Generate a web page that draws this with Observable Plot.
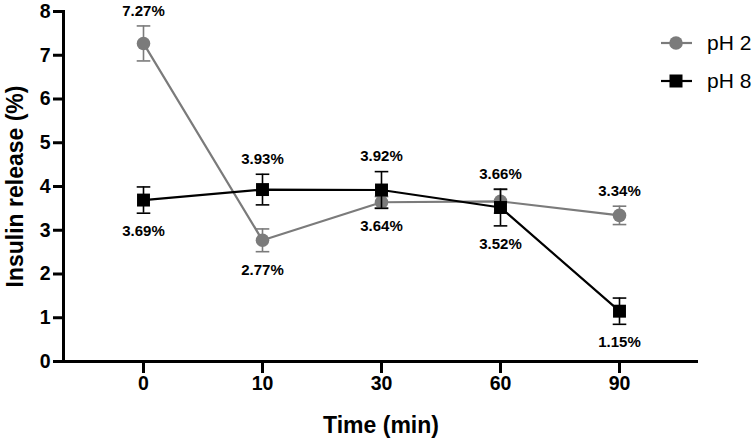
<!DOCTYPE html>
<html><head><meta charset="utf-8">
<script src="https://cdn.jsdelivr.net/npm/d3@7"></script>
<script src="https://cdn.jsdelivr.net/npm/@observablehq/plot@0.6"></script>
<style>
body{margin:0;background:#fff;font-family:"Liberation Sans",Arial,sans-serif}
#wrap{position:relative;width:754px;height:441px}
.leg{position:absolute;left:661px;height:20px;display:flex;align-items:center;font-size:21px;color:#000;white-space:nowrap}
.leg svg{margin-right:14px}
</style></head><body><div id="wrap"></div>
<script>
const times = ["0","10","30","60","90"];
const ph2 = [7.27, 2.77, 3.64, 3.66, 3.34];
const ph2err = [0.40, 0.26, 0.13, 0.27, 0.21];
const ph8 = [3.69, 3.93, 3.92, 3.52, 1.15];
const ph8err = [0.30, 0.35, 0.42, 0.42, 0.30];
const seriesNames = ["pH 2", "pH 8"];
const seriesColors = ["#7b7b7b", "#000000"];
const seriesSymbols = ["circle", "square"];
const yTicks = [0, 1, 2, 3, 4, 5, 6, 7, 8];

const vals = [ph2, ph8], errs = [ph2err, ph8err];
const rowsBy = vals.map((v, s) => times.map((t, i) => ({
  time: t, value: v[i], err: errs[s][i], series: seriesNames[s],
  above: v[i] >= vals[1 - s][i]
})));
const allRows = rowsBy.flat();

const cap = {draw(ctx) { ctx.moveTo(-6.8, 0); ctx.lineTo(6.8, 0); }};

const marks = [];
rowsBy.forEach((rows, s) => {
  const c = seriesColors[s];
  marks.push(
    Plot.ruleX(rows, {x: "time", y1: d => d.value - d.err, y2: d => d.value + d.err, stroke: c, strokeWidth: 1.6}),
    Plot.dot(rows, {x: "time", y: d => d.value + d.err, symbol: cap, fill: "none", stroke: c, strokeWidth: 1.6}),
    Plot.dot(rows, {x: "time", y: d => d.value - d.err, symbol: cap, fill: "none", stroke: c, strokeWidth: 1.6}),
    Plot.line(rows, {x: "time", y: "value", stroke: c, strokeWidth: 2.2}),
    Plot.dot(rows, {x: "time", y: "value", symbol: seriesSymbols[s], r: s === 0 ? 6.8 : 7.3, fill: c, stroke: "none"})
  );
});

const chart = Plot.plot({
  width: 754, height: 441,
  marginLeft: 63, marginRight: 56, marginTop: 11, marginBottom: 80,
  style: {fontFamily: "'Liberation Sans', Arial, sans-serif", color: "#000", background: "#fff"},
  x: {type: "point", domain: times, padding: 0.66, label: null},
  y: {domain: [0, 8], label: null},
  marks: [
    ...marks,
    Plot.text(allRows.filter(d => d.above), {x: "time", y: d => d.value + d.err, dy: -15, text: d => d.value.toFixed(2) + "%", fontSize: 15, fontWeight: "bold", fill: "#000"}),
    Plot.text(allRows.filter(d => !d.above), {x: "time", y: d => d.value - d.err, dy: 18, text: d => d.value.toFixed(2) + "%", fontSize: 15, fontWeight: "bold", fill: "#000"}),
    Plot.axisY({ticks: yTicks, tickSize: 10, tickPadding: 3, strokeWidth: 3, fontSize: 19.5, fontWeight: "bold", label: null}),
    Plot.axisX({tickSize: 12, tickPadding: 3, strokeWidth: 3, fontSize: 19.5, fontWeight: "bold", label: null}),
    Plot.frame({anchor: "left", strokeWidth: 3}),
    Plot.ruleY([0], {strokeWidth: 3}),
    Plot.text(["Insulin release (%)"], {frameAnchor: "left", textAnchor: "middle", lineAnchor: "middle", dx: -48, rotate: -90, fontSize: 23, fontWeight: "bold", fill: "#000"}),
    Plot.text(["Time (min)"], {frameAnchor: "bottom", textAnchor: "middle", lineAnchor: "middle", dy: 64, fontSize: 23, fontWeight: "bold", fill: "#000"})
  ]
});
const wrap = document.getElementById("wrap");
wrap.appendChild(chart);

seriesNames.forEach((name, s) => {
  const div = document.createElement("div");
  div.className = "leg";
  div.style.top = (33 + s * 38) + "px";
  const c = seriesColors[s];
  const mk = s === 0
    ? `<circle cx="15" cy="10" r="6.8" fill="${c}"/>`
    : `<rect x="8.5" y="3.5" width="13" height="13" fill="${c}"/>`;
  div.innerHTML = `<svg width="32" height="20"><line x1="0" y1="10" x2="31" y2="10" stroke="${c}" stroke-width="2.2"/>${mk}</svg><span>${name}</span>`;
  wrap.appendChild(div);
});
</script></body></html>
